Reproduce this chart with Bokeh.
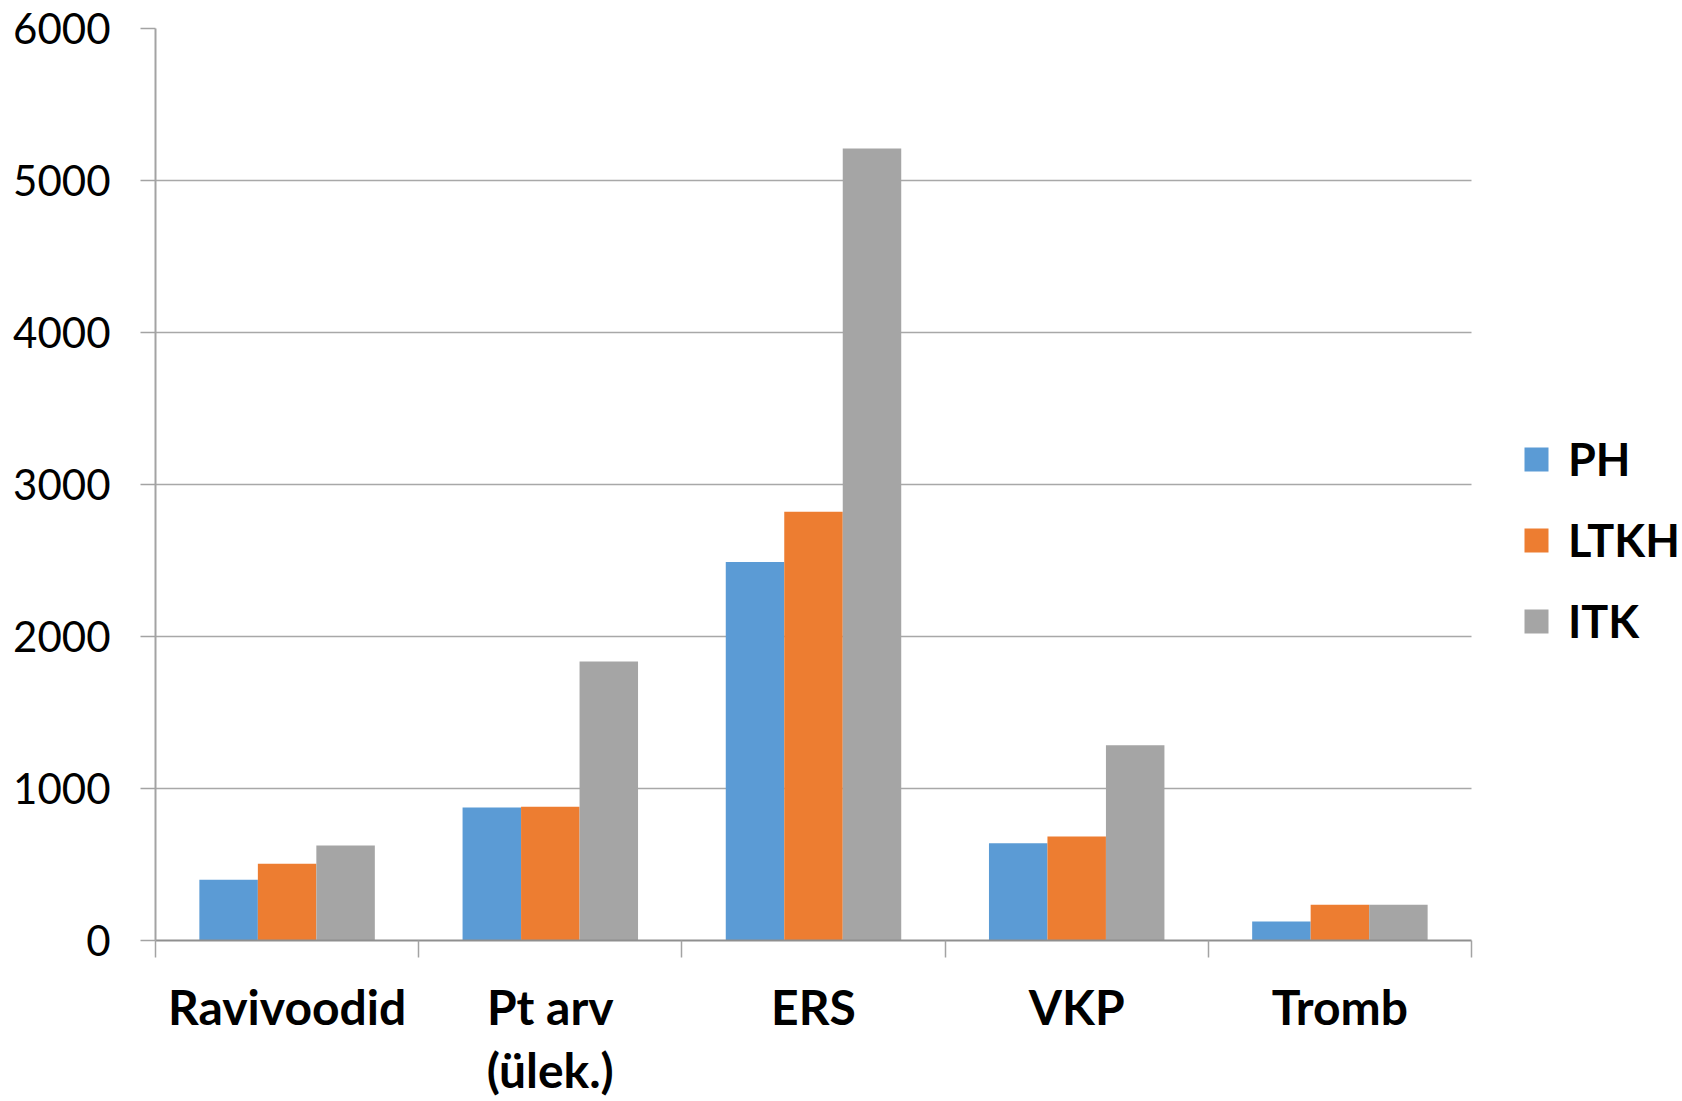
from bokeh.plotting import figure
from bokeh.models import ColumnDataSource, FixedTicker, Range1d, Legend, LegendItem
from bokeh.transform import dodge
from bokeh.embed import file_html
from bokeh.resources import INLINE

categories = ["Ravivoodid", "Pt arv\n(ülek.)", "ERS", "VKP", "Tromb"]
series_names = ["PH", "LTKH", "ITK"]
PH = [400, 875, 2490, 640, 125]
LTKH = [505, 880, 2820, 685, 235]
ITK = [625, 1835, 5210, 1285, 235]
y_ticks = [0, 1000, 2000, 3000, 4000, 5000, 6000]
colors = ["#5B9BD5", "#ED7D31", "#A5A5A5"]

n = len(categories)
centers = [i + 0.5 for i in range(n)]
src = ColumnDataSource(dict(x=centers, PH=PH, LTKH=LTKH, ITK=ITK))

W, H = 1680, 1101
LEFT, AXIS_RIGHT, TOP, BOTTOM = 155, 1471, 28, 941
x_end = n * (W - LEFT) / (AXIS_RIGHT - LEFT)   # extra room on the right for the legend

p = figure(width=W, height=H, output_backend="svg", toolbar_location=None,
           x_range=Range1d(0, x_end), y_range=Range1d(0, 6000),
           min_border_left=LEFT, min_border_top=TOP, min_border_right=0,
           min_border_bottom=H - BOTTOM)
p.outline_line_color = None
p.background_fill_color = "white"
p.border_fill_color = "white"

bw = 1 / 4.5
renderers = []
for k, (name, col) in enumerate(zip(series_names, colors)):
    r = p.vbar(x=dodge("x", (k - 1) * bw, range=p.x_range), top=name, width=bw,
               source=src, fill_color=col, line_color=None)
    renderers.append(r)

# y axis
p.yaxis.ticker = FixedTicker(ticks=y_ticks)
p.yaxis.axis_line_color = "#A3A3A3"
p.yaxis.axis_line_width = 2
p.yaxis.major_tick_line_color = "#A3A3A3"
p.yaxis.major_tick_line_width = 1.5
p.yaxis.major_tick_out = 15
p.yaxis.major_tick_in = 0
p.yaxis.minor_tick_line_color = None
p.yaxis.major_label_standoff = 30
p.yaxis.major_label_text_font = "Lato"
p.yaxis.major_label_text_font_size = "42px"
p.yaxis.major_label_text_color = "black"

p.ygrid.ticker = FixedTicker(ticks=y_ticks)
p.ygrid.cross_bounds = (0, n)
p.ygrid.grid_line_color = "#A8A8A8"
p.ygrid.grid_line_width = 1.6
p.xgrid.grid_line_color = None

# x axis
p.xaxis.bounds = (0, n)
p.xaxis.ticker = FixedTicker(ticks=centers, minor_ticks=list(range(n + 1)))
p.xaxis.major_label_overrides = {c: lab for c, lab in zip(centers, categories)}
p.xaxis.axis_line_color = "#8F8F8F"
p.xaxis.axis_line_width = 2
p.xaxis.major_tick_line_color = None
p.xaxis.major_tick_out = 0
p.xaxis.major_tick_in = 0
p.xaxis.minor_tick_line_color = "#A3A3A3"
p.xaxis.minor_tick_line_width = 1.5
p.xaxis.minor_tick_out = 17
p.xaxis.minor_tick_in = 0
p.xaxis.major_label_standoff = 20
p.xaxis.major_label_text_font = "Lato"
p.xaxis.major_label_text_font_style = "bold"
p.xaxis.major_label_text_font_size = "48px"
p.xaxis.major_label_text_color = "black"
p.xaxis.major_label_text_line_height = 1.12

legend = Legend(items=[LegendItem(label=s, renderers=[r]) for s, r in zip(series_names, renderers)],
                location=(1366, 292), orientation="vertical",
                glyph_width=30, glyph_height=30, label_standoff=17,
                label_text_font="Lato", label_text_font_style="bold",
                label_text_font_size="45px", label_text_color="black",
                spacing=27, padding=0, margin=0,
                border_line_color=None, background_fill_alpha=0)
p.add_layout(legend)

open("out.html", "w").write(file_html(p, INLINE))
